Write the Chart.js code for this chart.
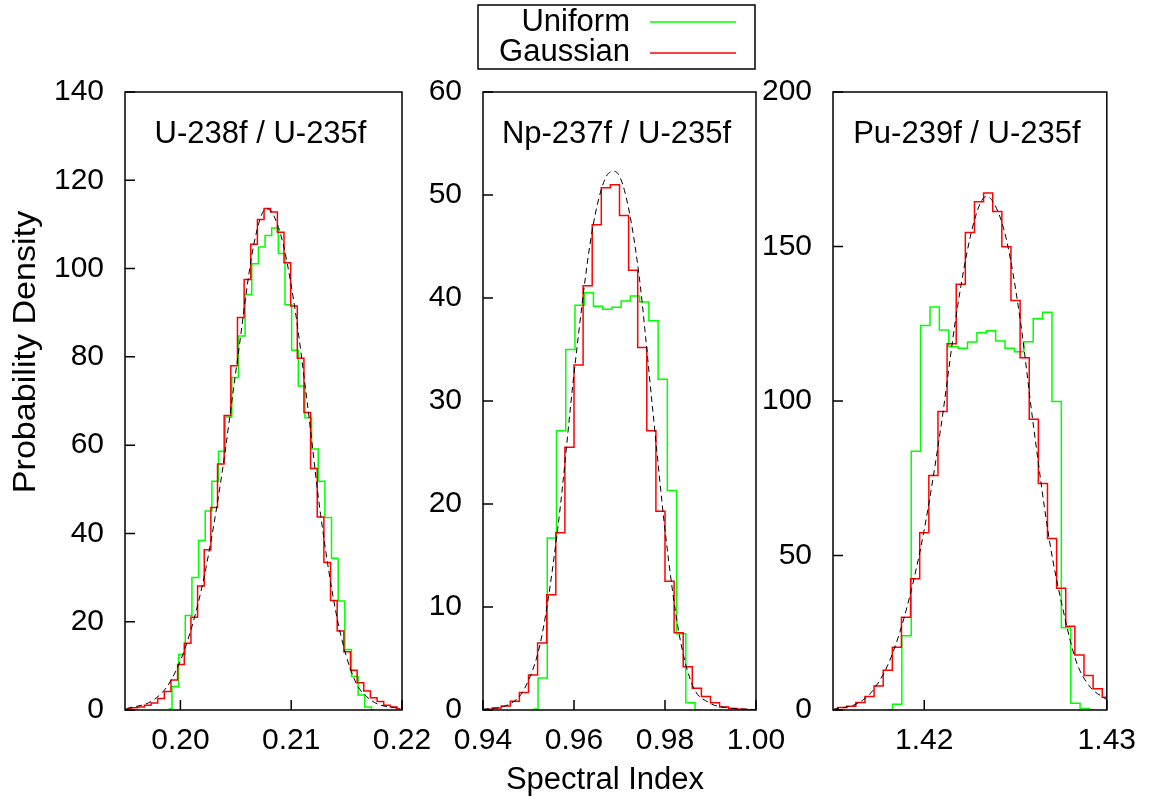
<!DOCTYPE html>
<html lang="en">
<head>
<meta charset="UTF-8">
<title>Spectral Index Distributions</title>
<script src="https://cdn.jsdelivr.net/npm/chart.js"></script>
<style>
  body { margin: 0; background: #fff; }
  .wrap { position: relative; width: 1149px; height: 800px; }
  canvas { position: absolute; left: 0; top: 0; }
</style>
</head>
<body>
<div class="wrap">
  <canvas id="c1" width="1149" height="800"></canvas>
  <canvas id="c2" width="1149" height="800"></canvas>
  <canvas id="c3" width="1149" height="800"></canvas>
</div>
<script>
// ---- U-238f / U-235f ----
const u238XTicks = [0.20, 0.21, 0.22];
const u238GaussStart = 0.19525, u238GaussWidth = 0.0006;
const u238Gauss = [0.3, 0.5, 0.7, 1.1, 1.6, 2.6, 4.2, 6.8, 10.3, 15.1, 21.0, 28.1, 36.3, 45.9,
  55.7, 66.7, 78.0, 88.9, 97.5, 105.5, 111.1, 113.6, 112.8, 108.2, 101.3, 91.5, 79.7, 67.4,
  54.7, 43.7, 33.4, 24.8, 17.9, 13.2, 9.0, 6.2, 4.3, 2.8, 1.9, 1.1, 0.7, 0.3];
const u238UniStart = 0.19894, u238UniWidth = 0.0006;
const u238Uniform = [0.3, 5.3, 12.6, 21.4, 30.0, 38.4, 45.1, 51.8, 58.6, 66.4, 75.3, 84.7, 94.1,
  101.1, 104.9, 107.5, 109.2, 103.4, 91.8, 81.5, 73.4, 66.2, 59.1, 51.8, 43.6, 34.4, 24.7,
  13.7, 7.6, 3.4, 0.7, 0];
const u238FitX = [0.19512, 0.19759, 0.19910, 0.20060, 0.20211, 0.20361, 0.20512, 0.20663,
  0.20777, 0.20904, 0.21024, 0.21145, 0.21265, 0.21416, 0.21566, 0.21717, 0.21997];
const u238FitY = [0.3, 2.3, 6.5, 15.3, 29.8, 51.2, 78.8, 105.5, 113.6, 107.8, 92.5, 69.6, 44.3,
  20.6, 7.2, 2.3, 0.2];

// ---- Np-237f / U-235f ----
const npXTicks = [0.94, 0.96, 0.98, 1.00];
const npGaussStart = 0.941, npGaussWidth = 0.002;
const npGauss = [0.07, 0.2, 0.4, 0.85, 1.7, 3.4, 6.5, 11.2, 17.2, 25.5, 33.5, 41.2, 47.1, 50.7,
  51.0, 48.0, 42.7, 35.2, 27.1, 19.3, 12.5, 7.5, 4.2, 2.1, 1.3, 0.7, 0.3, 0.15, 0.07, 0.03];
const npUniStart = 0.95108, npUniWidth = 0.00203;
const npUniform = [0.1, 3.1, 16.7, 27.1, 35.0, 39.3, 40.5, 39.2, 38.9, 39.1, 39.7, 40.2, 39.6,
  37.8, 32.1, 21.3, 7.4, 0.7, 0];
const npFitX = [0.93993, 0.94546, 0.94915, 0.95284, 0.95653, 0.96022, 0.96391, 0.96686, 0.96893,
  0.97129, 0.97424, 0.97720, 0.98015, 0.98310, 0.98605, 0.98974, 0.99417, 0.99993];
const npFitY = [0.07, 0.5, 2.1, 7.0, 18.0, 33.5, 46.3, 51.6, 52.3, 50.1, 42.4, 29.6, 16.9, 7.4,
  2.4, 0.7, 0.2, 0.04];

// ---- Pu-239f / U-235f ----
const puXTicks = [1.42, 1.43];
const puGaussStart = 1.4150, puGaussWidth = 0.0005;
const puGauss = [0.2, 0.8, 1.2, 2.4, 4.4, 7.8, 12.9, 20.3, 30.0, 42.5, 57.4, 75.9, 96.6, 118.5,
  137.8, 154.5, 164.5, 167.3, 161.3, 149.9, 132.5, 114.0, 94.1, 73.3, 55.5, 39.4, 27.1, 17.8,
  11.2, 6.9, 4.1];
const puUniStart = 1.41800, puUniWidth = 0.000514;
const puUniform = [0, 1.9, 24.0, 83.7, 124.4, 130.4, 123.0, 117.6, 117.1, 119.1, 122.1, 122.7,
  119.4, 117.1, 115.9, 119.2, 126.6, 128.7, 99.8, 26.6, 2.2, 0.5, 0];
const puFitX = [1.41500, 1.41636, 1.41726, 1.41817, 1.41908, 1.41998, 1.42089, 1.42179, 1.42252,
  1.42306, 1.42342, 1.42397, 1.42451, 1.42524, 1.42596, 1.42687, 1.42759, 1.42832, 1.42904, 1.43000];
const puFitY = [0.2, 2.2, 6.9, 16.9, 33.9, 57.8, 90.7, 129.3, 153.1, 163.9, 166.2, 162.2, 152.0,
  127.0, 93.0, 54.4, 32.8, 15.8, 7.8, 3.3];

const FONT = '"Liberation Sans", Arial, sans-serif';
Chart.defaults.font.family = FONT;
Chart.defaults.font.size = 30;
Chart.defaults.color = '#000';

function bins(start, width, values) {
  return values.map((v, i) => ({ x: start + i * width, y: v }));
}
function pairs(xs, ys) {
  return xs.map((x, i) => ({ x: x, y: ys[i] }));
}

// box around each panel, inward ticks, title inside
const framePlugin = {
  id: 'frame',
  afterDatasetsDraw(chart, args, opts) {
    const { ctx, chartArea: a, scales } = chart;
    ctx.save();
    ctx.strokeStyle = '#000';
    ctx.lineWidth = 1.5;
    ctx.strokeRect(a.left, a.top, a.right - a.left, a.bottom - a.top);
    ctx.beginPath();
    scales.x.ticks.forEach(t => {
      const px = scales.x.getPixelForValue(t.value);
      ctx.moveTo(px, a.bottom);
      ctx.lineTo(px, a.bottom - 10);
    });
    scales.y.ticks.forEach(t => {
      const py = scales.y.getPixelForValue(t.value);
      ctx.moveTo(a.left, py);
      ctx.lineTo(a.left + 10, py);
    });
    ctx.stroke();
    ctx.fillStyle = '#000';
    ctx.font = '31px ' + FONT;
    ctx.textAlign = 'center';
    ctx.textBaseline = 'middle';
    ctx.fillText(opts.title, (a.left + a.right) / 2 - 3, 134);
    ctx.restore();
  }
};

// shared legend and axis titles
const pagePlugin = {
  id: 'page',
  afterDraw(chart) {
    const ctx = chart.ctx;
    ctx.save();
    ctx.fillStyle = '#000';
    ctx.font = '31px ' + FONT;
    ctx.textBaseline = 'middle';
    // legend
    ctx.strokeStyle = '#000';
    ctx.lineWidth = 1.5;
    ctx.strokeRect(478, 5, 277, 64);
    ctx.textAlign = 'right';
    ctx.fillText('Uniform', 630, 22);
    ctx.fillText('Gaussian', 630, 52);
    ctx.strokeStyle = '#00ff00';
    ctx.beginPath(); ctx.moveTo(650, 22); ctx.lineTo(736, 22); ctx.stroke();
    ctx.strokeStyle = '#ff0000';
    ctx.beginPath(); ctx.moveTo(650, 53); ctx.lineTo(736, 53); ctx.stroke();
    // axis titles
    ctx.textAlign = 'center';
    ctx.fillText('Spectral Index', 605, 780);
    ctx.translate(26, 352);
    ctx.rotate(-Math.PI / 2);
    ctx.scale(1.1, 1);
    ctx.fillText('Probability Density', 0, 0);
    ctx.restore();
  }
};

function panel(id, p, extra) {
  return new Chart(document.getElementById(id), {
    type: 'line',
    data: {
      datasets: [
        { label: 'Fit', data: p.fit, borderColor: '#000', borderWidth: 1, borderDash: [6, 4],
          cubicInterpolationMode: 'monotone', pointRadius: 0 },
        { label: 'Gaussian', data: p.gauss, borderColor: '#ff0000', borderWidth: 1.5,
          stepped: 'middle', pointRadius: 0 },
        { label: 'Uniform', data: p.uniform, borderColor: '#00ff00', borderWidth: 1.5,
          stepped: 'middle', pointRadius: 0 }
      ]
    },
    options: {
      responsive: false,
      animation: false,
      events: [],
      layout: { padding: { left: p.left - 100, right: 1149 - p.right, top: 92, bottom: 40 } },
      plugins: {
        legend: { display: false },
        tooltip: { enabled: false },
        frame: { title: p.title }
      },
      scales: {
        x: {
          type: 'linear',
          min: p.xMin,
          max: p.xMax,
          grid: { display: false, drawTicks: false },
          border: { display: false },
          ticks: { padding: 13, maxRotation: 0, autoSkip: false, callback: v => Number(v).toFixed(2) },
          afterBuildTicks: s => { s.ticks = p.xTicks.map(v => ({ value: v })); },
          afterFit: s => { s.height = 50; }
        },
        y: {
          min: 0,
          max: p.yMax,
          grid: { display: false, drawTicks: false },
          border: { display: false },
          ticks: { stepSize: p.yStep, padding: 21 },
          afterFit: s => { s.width = 100; }
        }
      }
    },
    plugins: extra ? [framePlugin, extra] : [framePlugin]
  });
}

panel('c1', {
  title: 'U-238f / U-235f', left: 125, right: 402, xMin: 0.195, xMax: 0.22, xTicks: u238XTicks,
  yMax: 140, yStep: 20,
  gauss: bins(u238GaussStart, u238GaussWidth, u238Gauss),
  uniform: bins(u238UniStart, u238UniWidth, u238Uniform),
  fit: pairs(u238FitX, u238FitY)
});
panel('c2', {
  title: 'Np-237f / U-235f', left: 483, right: 756, xMin: 0.94, xMax: 1.00, xTicks: npXTicks,
  yMax: 60, yStep: 10,
  gauss: bins(npGaussStart, npGaussWidth, npGauss),
  uniform: bins(npUniStart, npUniWidth, npUniform),
  fit: pairs(npFitX, npFitY)
});
panel('c3', {
  title: 'Pu-239f / U-235f', left: 833, right: 1109, xMin: 1.415, xMax: 1.43, xTicks: puXTicks,
  yMax: 200, yStep: 50,
  gauss: bins(puGaussStart, puGaussWidth, puGauss),
  uniform: bins(puUniStart, puUniWidth, puUniform),
  fit: pairs(puFitX, puFitY)
}, pagePlugin);
</script>
</body>
</html>
